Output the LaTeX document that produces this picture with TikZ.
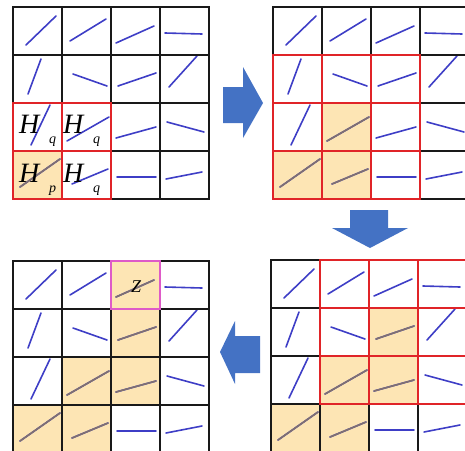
\documentclass[tikz,border=0pt]{standalone}
\usepackage{fontspec}
\setmainfont{Liberation Serif}
\usepackage{xcolor}
\definecolor{fieldblue}{RGB}{62,62,198}
\definecolor{fielddim}{RGB}{128,112,112}
\definecolor{fieldfill}{RGB}{253,229,180}
\definecolor{fieldred}{RGB}{224,36,40}
\definecolor{fieldpink}{RGB}{222,90,200}
\definecolor{fieldgrid}{RGB}{25,25,25}
\definecolor{stepblue}{RGB}{68,114,196}
\usepackage{tikz}

% one short stroke per cell: col/row/x1/y1/x2/y2 (offsets in the cell)
\def\fieldlines{0/0/13/38/43/9, 1/0/8/34/44/12, 2/0/5/36/43/19, 3/0/5/26/42/27,
  0/1/15/39/28/4, 1/1/11/19/45/31, 2/1/7/31/45/18, 3/1/9/32/37/1,
  0/2/18/42/37/2, 1/2/5/38/47/14, 2/2/5/35/45/24, 3/2/7/19/44/29,
  0/3/7/36/47/8, 1/3/10/33/46/18, 2/3/6/26/45/26, 3/3/6/28/42/21}

% #1,#2: top left corner, #3: shaded cells
\newcommand{\drawfield}[3]{%
  \foreach \ci/\ri in {#3}
    \fill[shaded] ({#1+\ci*49},{#2+\ri*48}) rectangle +(49,48);
  \foreach \ci/\ri/\xa/\ya/\xb/\yb in \fieldlines
    \draw[vec] ({#1+\ci*49+\xa},{#2+\ri*48+\ya}) -- ({#1+\ci*49+\xb},{#2+\ri*48+\yb});
  \begin{scope}
    \clip \foreach \ci/\ri in {#3} {({#1+\ci*49},{#2+\ri*48}) rectangle +(49,48)};
    \foreach \ci/\ri/\xa/\ya/\xb/\yb in \fieldlines
      \draw[vec, fielddim] ({#1+\ci*49+\xa},{#2+\ri*48+\ya}) -- ({#1+\ci*49+\xb},{#2+\ri*48+\yb});
  \end{scope}
  \foreach \ci in {0,...,3}
    \foreach \ri in {0,...,3}
      \draw[gridline] ({#1+\ci*49},{#2+\ri*48}) rectangle +(49,48);
}

\begin{document}
\begin{tikzpicture}[
  x=1pt, y=-1pt,
  vec/.style={draw=fieldblue, line width=1.6pt, line cap=round},
  shaded/.style={fill=fieldfill},
  gridline/.style={draw=fieldgrid, line width=1.2pt},
  redcell/.style={draw=fieldred, line width=1.2pt},
  pinkcell/.style={draw=fieldpink, line width=1.2pt},
  bigarrow/.style={fill=stepblue, draw=none},
  lbl/.style={inner sep=0pt, font=\fontsize{28}{28}\selectfont\itshape, text=black},
  sub/.style={inner sep=0pt, font=\fontsize{14}{14}\selectfont\itshape, text=black}
]
\useasboundingbox (0,0) rectangle (465,450);

% Four stages
\drawfield{13}{7}{0/3}
\drawfield{273}{7}{1/2, 0/3, 1/3}
\drawfield{13}{261}{2/0, 2/1, 1/2, 2/2, 0/3, 1/3}
\drawfield{271}{260}{2/1, 1/2, 2/2, 0/3, 1/3}

% Red windows
\foreach \ci/\ri in {0/2, 1/2, 0/3, 1/3}
  \draw[redcell] ({13+\ci*49},{7+\ri*48}) rectangle +(49,48);
\foreach \ci in {0,...,2}
  \foreach \ri in {1,...,3}
    \draw[redcell] ({273+\ci*49},{7+\ri*48}) rectangle +(49,48);
\foreach \ci in {1,...,3}
  \foreach \ri in {0,...,2}
    \draw[redcell] ({271+\ci*49},{260+\ri*48}) rectangle +(49,48);
\draw[pinkcell] (111,261) rectangle +(49,48);

% Labels
\node[lbl, anchor=base west] (hq1) at (19,133) {H};
\node[sub, anchor=base west] (q1) at (49,143) {q};
\node[lbl, anchor=base west] (hq2) at (63,133) {H};
\node[sub, anchor=base west] (q2) at (93,143) {q};
\node[lbl, anchor=base west] (hp) at (19,182) {H};
\node[sub, anchor=base west] (p1) at (49,192) {p};
\node[lbl, anchor=base west] (hq3) at (63,182) {H};
\node[sub, anchor=base west] (q3) at (93,192) {q};
\node[inner sep=0pt, font=\fontsize{18}{18}\selectfont\itshape, anchor=base west] (z) at (131,292) {Z};

% Step arrows
\fill[bigarrow] (223,87) -- (243,87) -- (243,67) -- (263,103) -- (243,138) -- (243,123) -- (223,123) -- cycle;
\fill[bigarrow] (350,210) -- (388,210) -- (388,228) -- (408,228) -- (370,248) -- (332,228) -- (350,228) -- cycle;
\fill[bigarrow] (260,336) -- (235,336) -- (235,321) -- (220,352) -- (235,384) -- (235,373) -- (260,373) -- cycle;
\end{tikzpicture}
\end{document}
